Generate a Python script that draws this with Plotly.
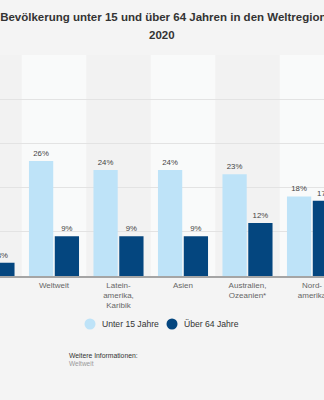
import plotly.graph_objects as go

categories = ["Afrika", "Weltweit", "Latein-<br>amerika,<br>Karibik", "Asien",
              "Australien,<br>Ozeanien*", "Nord-<br>amerika", "Europa"]
unter_15 = [41, 26, 24, 24, 23, 18, 16]
ueber_64 = [3, 9, 9, 9, 12, 17, 19]
series_names = ["Unter 15 Jahre", "Über 64 Jahre"]
colors = ["#bee3f8", "#04467f"]

W, H = 324, 400
top, bottom = 55, 276
ph = bottom - top
cat_px = 64.5
first_px = 54  # pixel centre of category index 1
x0 = 1 - first_px / cat_px
x1 = x0 + W / cat_px


def py(pix):
    return (bottom - pix) / ph


fig = go.Figure()
for name, vals, col in zip(series_names, [unter_15, ueber_64], colors):
    fig.add_trace(go.Bar(
        x=categories, y=vals, name=name, marker=dict(color=col, line=dict(width=0)),
        text=[f"{v}%" for v in vals], textposition="outside",
        textfont=dict(size=7.8, color="#444", family="Liberation Sans"),
        showlegend=False, cliponaxis=True,
    ))

shapes = []
for i in range(len(categories)):
    if i % 2 == 0:
        shapes.append(dict(type="rect", xref="x", yref="y", x0=i - 0.5, x1=i + 0.5,
                           y0=0, y1=50, fillcolor="#f2f2f2", line=dict(width=0), layer="below"))

annotations = []
leg_y = 324
for name, col, cx in zip(series_names, colors, [90, 172]):
    shapes.append(dict(type="circle", xref="paper", yref="paper",
                       xsizemode="pixel", ysizemode="pixel",
                       xanchor=cx / W, yanchor=py(leg_y), x0=-5.5, x1=5.5, y0=-5.5, y1=5.5,
                       fillcolor=col, line=dict(width=0)))
    annotations.append(dict(text=name, xref="paper", yref="paper", x=(cx + 10) / W,
                            y=py(leg_y), xanchor="left", yanchor="middle", showarrow=False,
                            font=dict(size=8.6, color="#333")))

annotations += [
    dict(text="<b>2020</b>", xref="paper", yref="paper", x=0.5, y=py(35), xanchor="center",
         yanchor="middle", showarrow=False,
         font=dict(size=11.5, color="#333", family="Liberation Sans")),
    dict(text="Weitere Informationen:", xref="paper", yref="paper",
         x=67 / W, y=py(355), xanchor="left", yanchor="middle",
         showarrow=False, font=dict(size=6.8, color="#333")),
    dict(text="Weltweit", xref="paper", yref="paper",
         x=67 / W, y=py(363.5), xanchor="left", yanchor="middle",
         showarrow=False, font=dict(size=6.5, color="#999")),
]

fig.update_layout(
    width=W, height=H,
    margin=dict(l=0, r=0, t=top, b=H - bottom, pad=0, autoexpand=False),
    paper_bgcolor="#f4f4f4", plot_bgcolor="#f9fafa",
    barmode="group", bargap=0.2, bargroupgap=0.06,
    showlegend=False,
    title=dict(text="<b>Bevölkerung unter 15 und über 64 Jahren in den Weltregionen</b>",
               x=170 / W, xanchor="center", y=1 - 17 / H, yanchor="middle",
               font=dict(size=11.5, color="#333", family="Liberation Sans")),
    font=dict(family="Liberation Sans"),
    xaxis=dict(range=[x0, x1], showline=True, linecolor="#a5a5a5", linewidth=2,
               tickfont=dict(size=8, color="#666"), ticks="", showgrid=False,
               automargin=False, fixedrange=True),
    yaxis=dict(range=[0, 50], dtick=10, showticklabels=False, gridcolor="#e3e3e3",
               gridwidth=1, zeroline=False, showline=False, automargin=False),
    shapes=shapes,
    annotations=annotations,
)

fig.write_html("out.html")
